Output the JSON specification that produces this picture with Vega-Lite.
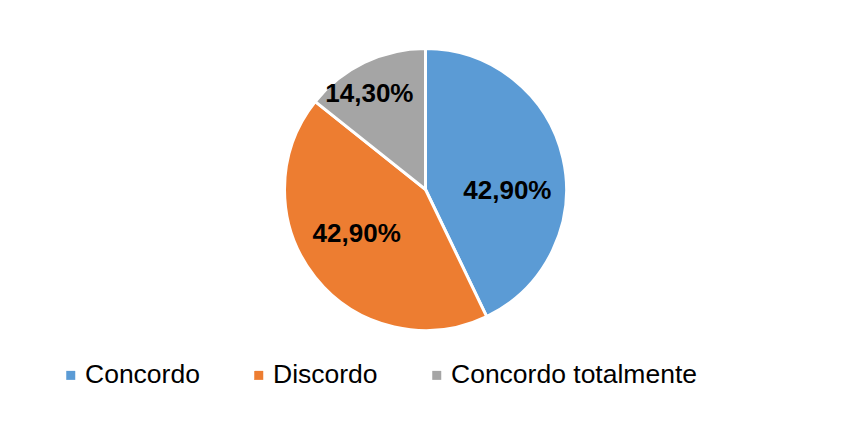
{
  "$schema": "https://vega.github.io/schema/vega-lite/v6.json",
  "autosize": "none",
  "width": 833,
  "height": 359,
  "padding": {"left": 9, "top": 10, "right": 14, "bottom": 68},
  "background": "white",
  "config": {
    "view": {"stroke": null},
    "locale": {"number": {"decimal": ",", "thousands": ".", "grouping": [3], "currency": ["", " €"]}},
    "font": "Liberation Sans"
  },
  "data": {
    "values": [
      {"categoria": "Concordo", "valor": 0.429, "ordem": 1},
      {"categoria": "Discordo", "valor": 0.429, "ordem": 2},
      {"categoria": "Concordo totalmente", "valor": 0.143, "ordem": 3}
    ]
  },
  "encoding": {
    "theta": {"field": "valor", "type": "quantitative", "stack": true},
    "order": {"field": "ordem", "type": "quantitative"}
  },
  "layer": [
    {
      "mark": {"type": "arc", "radius": 141, "stroke": "white", "strokeWidth": 3},
      "encoding": {
        "color": {
          "field": "categoria",
          "type": "nominal",
          "scale": {
            "domain": ["Concordo", "Discordo", "Concordo totalmente"],
            "range": ["#5B9BD5", "#ED7D31", "#A5A5A5"]
          },
          "legend": {
            "title": null,
            "orient": "none",
            "direction": "horizontal",
            "legendX": 48.5,
            "legendY": 352,
            "symbolType": "square",
            "symbolSize": 81,
            "symbolStrokeWidth": 0,
            "labelFontSize": 26.5,
            "labelFont": "Liberation Sans",
            "labelColor": "black",
            "labelOffset": 1,
            "columnPadding": 45,
            "labelLimit": 400
          }
        }
      }
    },
    {
      "mark": {"type": "text", "radius": 84, "dy": 20, "fontSize": 26, "fontWeight": "bold", "font": "Liberation Sans", "color": "black", "align": "center", "baseline": "middle"},
      "encoding": {
        "text": {"condition": {"test": "datum.categoria === 'Concordo'", "field": "valor", "type": "quantitative", "format": ".2%"}, "value": ""}
      }
    },
    {
      "mark": {"type": "text", "radius": 88, "dy": -10, "fontSize": 26, "fontWeight": "bold", "font": "Liberation Sans", "color": "black", "align": "center", "baseline": "middle"},
      "encoding": {
        "text": {"condition": {"test": "datum.categoria === 'Discordo'", "field": "valor", "type": "quantitative", "format": ".2%"}, "value": ""}
      }
    },
    {
      "mark": {"type": "text", "radius": 104, "dx": -11, "dy": -2, "fontSize": 26, "fontWeight": "bold", "font": "Liberation Sans", "color": "black", "align": "center", "baseline": "middle"},
      "encoding": {
        "text": {"condition": {"test": "datum.categoria === 'Concordo totalmente'", "field": "valor", "type": "quantitative", "format": ".2%"}, "value": ""}
      }
    }
  ]
}
